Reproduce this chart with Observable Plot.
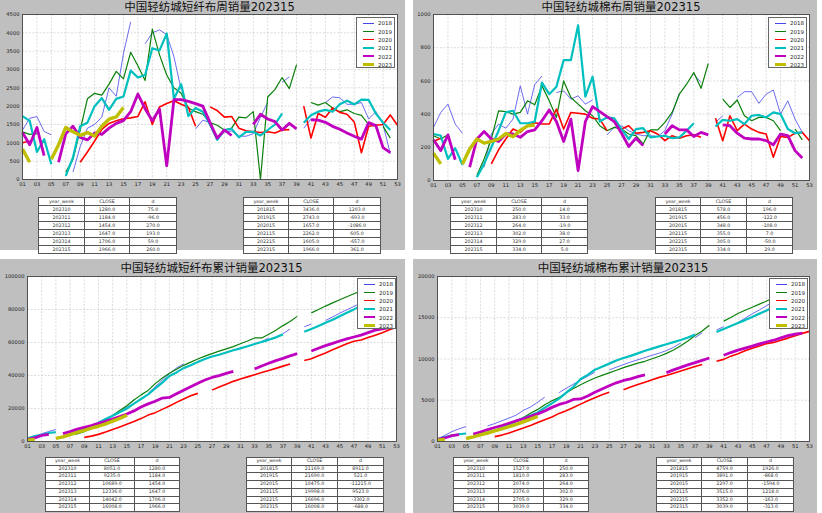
<!DOCTYPE html>
<html><head><meta charset="utf-8">
<script src="https://cdn.jsdelivr.net/npm/d3@7"></script>
<script src="https://cdn.jsdelivr.net/npm/@observablehq/plot@0.6"></script>
<style>
html,body{margin:0;padding:0;}
body{background:#fff;width:822px;height:513px;overflow:hidden;position:relative;font-family:"DejaVu Sans","Noto Sans CJK SC",sans-serif;}
.panel{position:absolute;background:#bfbfbf;}
.title{position:absolute;font-size:11.5px;color:#111;white-space:nowrap;transform:translateX(-50%);line-height:12px;font-family:"DejaVu Sans","Noto Sans CJK SC",sans-serif;}
.chart{position:absolute;}
table.t{position:absolute;border-collapse:collapse;background:#fff;font-size:4.7px;color:#333;table-layout:fixed;}
table.t td{border:0.8px solid #555;text-align:center;padding:0;white-space:nowrap;overflow:hidden;}
.legend{position:absolute;background:#fff;border:0.8px solid #666;box-sizing:border-box;width:39px;height:51px;}
.lrow{position:absolute;left:0;height:8px;width:100%;}
.sw{position:absolute;left:6px;width:11px;top:4px;}
.lt{position:absolute;left:21px;top:0;font-size:5.5px;line-height:8px;color:#222;}
</style></head>
<body>
<script>
// ---------- categories ----------
const years = ["2018","2019","2020","2021","2022","2023"];
const yearColors = ["#4646ee","#0a800a","#ff0000","#00bfbf","#bf00bf","#bfbf00"];
const yearWidths = [0.8,1.2,1.6,2.2,2.8,3.4];
const weekTicks = d3.range(1,54,2);
const tableHeader = ["year_week","CLOSE","d"];

// ---------- short-fiber weekly sales (week 1..53) ----------
const short2018 = [1350,1670,1716,1310,1220,null,null,200,900,1400, 1500,1700,2500,2270,3436,4300,null,3700,4000,4080, 3950,3350,2450,null,1380,1620,1550,1100,1300,1320, 1180,1180,1250,1700,2100,null,2650,2800,null,1400, 1650,null,2100,2250,2230,2050,2050,2100,1650,1850, 1500,700,null];
const short2019 = [1300,1230,1250,null,null,null,200,550,1350,2200, 2350,2300,2600,2950,2743,3470,3100,2700,4100,3400, 2850,2500,2350,1950,1850,1780,1550,1480,1350,1400, 1700,1680,1850,0,2250,2450,2780,2480,3130,null, 2100,2030,2100,1950,1850,1900,1800,1750,1500,null, 1450,1130,null];
const short2020 = [1000,1050,null,null,null,null,null,null,470,750, 1050,1370,1530,1600,1657,1680,1720,2120,1500,1980, 2070,2150,2050,1970,1450,null,1980,1880,1700,1720, 1400,1330,1300,1280,1300,1270,1350,1360,null,2000, 1130,1800,1700,1950,1830,1780,1570,730,1450,1480, 1500,1760,1480];
const short2021 = [1730,1600,750,1100,420,null,100,600,1450,1550, 2000,2220,1900,2200,2262,2970,2780,2850,3580,3520, 3980,2200,2600,1730,1950,1850,1500,1080,1350,1380, 1150,1300,1300,1200,1350,1500,1800,null,null,1550, 1750,1850,1900,1850,2050,2150,2050,2180,2170,1800, 1550,1350,null];
const short2022 = [1280,950,1420,650,null,470,1250,1450,1150,1080, 1270,1230,1400,1530,1605,1850,2330,1930,1600,1920, 370,2180,2180,2130,2070,2000,1550,1130,1350,1200, null,null,1500,1780,1650,1580,1350,1530,1380,null, 1630,1620,1560,1450,1370,1270,1180,1100,1550,1470, 870,730,null];
const short2023 = [830,470,null,null,550,950,1420,1300,1205,1280, 1184,1454,1647,1706,1966];

// ---------- cotton weekly sales ----------
const cotton2018 = [320,410,460,340,285,null,null,80,280,340, 315,370,570,400,578,630,null,530,540,490, 510,460,485,null,275,320,330,300,280,270, 270,265,300,400,525,null,640,590,null,350, 390,null,500,535,535,465,520,545,400,480, 370,290,null];
const cotton2019 = [270,250,275,null,null,null,30,130,250,420, 415,400,410,480,456,570,480,380,600,500, 460,420,390,330,300,320,310,280,270,220, 305,305,350,410,520,580,650,555,705,null, 490,440,485,390,360,380,380,360,300,null, 310,245,null];
const cotton2020 = [235,255,null,null,null,null,null,null,100,185, 250,310,290,330,348,340,340,430,310,410, 405,400,375,370,300,null,310,330,285,290, 300,280,240,270,255,270,275,260,null,375, 240,390,300,340,310,290,280,140,265,260, 285,290,240];
const cotton2021 = [280,270,130,195,95,null,20,100,200,300, 410,420,345,345,355,590,520,565,725,725, 935,505,625,355,380,375,310,250,310,315, 260,265,270,255,260,300,345,null,null,325, 365,360,370,340,390,395,380,410,400,310, 285,290,null];
const cotton2022 = [245,180,275,125,null,80,250,295,250,235, 280,280,260,295,305,360,425,355,235,370, 60,355,445,415,385,355,285,205,255,210, null,null,280,330,305,305,265,290,275,null, 335,330,285,255,250,250,240,215,280,270, 180,135,null];
const cotton2023 = [165,100,null,null,100,190,250,225,236,250, 283,264,302,329,334];

// ---------- short-fiber cumulative sales ----------
const shortCum2018 = [1350,3020,4736,6046,7266,null,null,7466,8366,9766, 11266,12966,15466,17733,21169,25469,null,29169,33169,37249, 41199,44549,46999,null,48379,49999,51549,52649,53949,55269, 56449,57629,58879,60579,62679,null,65329,68129,null,69529, 71179,null,73279,75529,77759,79809,81859,83959,85609,87459, 88959,89659,null];
const shortCum2019 = [1300,2530,3780,null,null,null,4000,4600,6000,8250, 10650,13000,15700,18800,21690,25160,28260,30960,35060,38460, 41310,43810,46160,48110,49960,51740,53290,54770,56120,57520, 59220,60900,62750,62750,65000,67450,70230,72710,75840,null, 77940,79970,82070,84020,85870,87770,89570,91320,92820,null, 94270,95400,null];
const shortCum2020 = [1000,2050,null,null,null,null,null,null,2520,3270, 4320,5690,7220,8818,10475,12155,13875,15995,17495,19475, 21545,23695,25745,27715,29165,null,31145,33025,34725,36445, 37845,39175,40475,41755,43055,44325,45675,47035,null,49035, 50165,51965,53665,55615,57445,59225,60795,61525,62975,64455, 65955,67715,69195];
const shortCum2021 = [1730,3330,4080,5180,5600,null,5700,6300,7800,9400, 11400,13650,15550,17736,19998,22968,25748,28598,32178,35698, 39678,41878,44478,46208,48158,50008,51508,52588,53938,55318, 56468,57768,59068,60268,61618,63118,64918,null,null,66468, 68218,70068,71968,73818,75868,78018,80068,82248,84418,86218, 87768,89118,null];
const shortCum2022 = [1280,2230,3650,4300,null,4770,6020,7470,8620,9700, 10970,12200,13600,15091,16696,18546,20876,22806,24406,26326, 26696,28876,31056,33186,35256,37256,38806,39936,41286,42486, null,null,43986,45766,47416,48996,50346,51876,53256,null, 54886,56506,58066,59516,60886,62156,63336,64436,65986,67456, 68326,69056,null];
const shortCum2023 = [830,1300,null,null,1850,2800,4220,5520,6771,8051, 9235,10689,12336,14042,16008];

// ---------- cotton cumulative sales ----------
const cottonCum2018 = [320,730,1190,1530,1815,null,null,1895,2175,2515, 2830,3200,3770,4181,4759,5389,null,5919,6459,6949, 7459,7919,8404,null,8679,8999,9329,9629,9909,10179, 10449,10714,11014,11414,11939,null,12579,13169,null,13519, 13909,null,14409,14944,15479,15944,16464,17009,17409,17889, 18259,18549,null];
const cottonCum2019 = [270,520,795,null,null,null,830,960,1220,1650, 2070,2480,2900,3435,3891,4461,4941,5321,5921,6421, 6881,7301,7691,8021,8321,8641,8951,9231,9501,9721, 10026,10331,10681,11091,11611,12191,12841,13396,14101,null, 14591,15031,15516,15906,16266,16646,17026,17386,17686,null, 17996,18241,null];
const cottonCum2020 = [235,490,null,null,null,null,null,null,590,775, 1025,1335,1625,1949,2297,2637,2977,3407,3717,4127, 4532,4932,5307,5677,5977,null,6287,6617,6902,7192, 7492,7772,8012,8282,8537,8807,9082,9342,null,9717, 9957,10347,10647,10987,11297,11587,11867,12007,12272,12532, 12817,13107,13347];
const cottonCum2021 = [280,550,680,875,970,null,1000,1100,1310,1620, 2040,2470,2820,3160,3515,4105,4625,5190,5915,6640, 7575,8080,8705,9060,9440,9815,10125,10375,10685,11000, 11260,11525,11795,12050,12310,12610,12955,null,null,13280, 13645,14005,14375,14715,15105,15500,15880,16290,16690,17000, 17285,17575,null];
const cottonCum2022 = [245,425,700,825,null,905,1155,1450,1700,1935, 2215,2495,2755,3047,3352,3712,4137,4492,4727,5097, 5157,5512,5957,6372,6757,7112,7397,7602,7857,8067, null,null,8347,8677,8982,9287,9552,9842,10117,null, 10452,10782,11067,11322,11572,11822,12062,12277,12557,12827, 13007,13142,null];
const cottonCum2023 = [165,265,null,null,365,555,805,1030,1277,1527, 1810,2074,2376,2705,3039];

// ---------- tables ----------
const tblShortRecent = [["202310","1280.0","75.0"],["202311","1184.0","-96.0"],["202312","1454.0","270.0"],["202313","1647.0","193.0"],["202314","1706.0","59.0"],["202315","1966.0","260.0"]];
const tblShortYoY = [["201815","3436.0","1203.0"],["201915","2743.0","-693.0"],["202015","1657.0","-1086.0"],["202115","2262.0","605.0"],["202215","1605.0","-657.0"],["202315","1966.0","361.0"]];
const tblCottonRecent = [["202310","250.0","14.0"],["202311","283.0","33.0"],["202312","264.0","-19.0"],["202313","302.0","38.0"],["202314","329.0","27.0"],["202315","334.0","5.0"]];
const tblCottonYoY = [["201815","578.0","196.0"],["201915","456.0","-122.0"],["202015","348.0","-108.0"],["202115","355.0","7.0"],["202215","305.0","-50.0"],["202315","334.0","29.0"]];
const tblShortCumRecent = [["202310","8051.0","1280.0"],["202311","9235.0","1184.0"],["202312","10689.0","1454.0"],["202313","12336.0","1647.0"],["202314","14042.0","1706.0"],["202315","16008.0","1966.0"]];
const tblShortCumYoY = [["201815","21169.0","8911.0"],["201915","21690.0","521.0"],["202015","10475.0","-11215.0"],["202115","19998.0","9523.0"],["202215","16696.0","-3302.0"],["202315","16008.0","-688.0"]];
const tblCottonCumRecent = [["202310","1527.0","250.0"],["202311","1810.0","283.0"],["202312","2074.0","264.0"],["202313","2376.0","302.0"],["202314","2705.0","329.0"],["202315","3039.0","334.0"]];
const tblCottonCumYoY = [["201815","4759.0","1926.0"],["201915","3891.0","-868.0"],["202015","2297.0","-1594.0"],["202115","3515.0","1218.0"],["202215","3352.0","-163.0"],["202315","3039.0","-313.0"]];

// ---------- layout ----------
const panels = [
  {title:"中国轻纺城短纤布周销量202315", box:[0,0,405,250], frame:[22,14,397,179], ymax:4500, ystep:500,
   series:[short2018,short2019,short2020,short2021,short2022,short2023], titleTop:1,
   legend:[356,17], tables:[[tblShortRecent,38,197,[46,45,47],7],[tblShortYoY,243,197,[45,45,47],7]]},
  {title:"中国轻纺城棉布周销量202315", box:[413,0,404,250], frame:[433,14,809,180], ymax:1000, ystep:200,
   series:[cotton2018,cotton2019,cotton2020,cotton2021,cotton2022,cotton2023], titleTop:1,
   legend:[768,17], tables:[[tblCottonRecent,450,197,[46,45,46],7],[tblCottonYoY,655,197,[45,46,46],7]]},
  {title:"中国轻纺城短纤布累计销量202315", box:[0,259,405,254], frame:[27,276,396,441], ymax:100000, ystep:20000,
   series:[shortCum2018,shortCum2019,shortCum2020,shortCum2021,shortCum2022,shortCum2023], titleTop:262,
   legend:[357,278], tables:[[tblShortCumRecent,45,457,[44,45,45],6.7],[tblShortCumYoY,246,457,[45,46,46],6.7]]},
  {title:"中国轻纺城棉布累计销量202315", box:[413,259,404,254], frame:[437,276,809,441], ymax:20000, ystep:5000,
   series:[cottonCum2018,cottonCum2019,cottonCum2020,cottonCum2021,cottonCum2022,cottonCum2023], titleTop:262,
   legend:[769,278], tables:[[tblCottonCumRecent,453,457,[45,45,45],6.7],[tblCottonCumYoY,656,457,[45,46,46],6.7]]}
];

function el(tag, cls, style){const e=document.createElement(tag); if(cls) e.className=cls; if(style) Object.assign(e.style, style); document.body.appendChild(e); return e;}

for (const p of panels) {
  const [bx,by,bw,bh] = p.box;
  el("div","panel",{left:bx+"px",top:by+"px",width:bw+"px",height:bh+"px"});
  const [fx0,fy0,fx1,fy1] = p.frame;
  const H = fy1 - by + 12;
  const yTicks = d3.range(0, p.ymax + 1, p.ystep);
  const lines = p.series.map((arr,i) => Plot.line(arr.map((v,k)=>({week:k+1, value:v})), {
    x:"week", y:"value", stroke: yearColors[i], strokeWidth: yearWidths[i], strokeLinejoin:"round", strokeLinecap:"butt"
  }));
  const chart = Plot.plot({
    width: bw, height: H,
    marginLeft: fx0 - bx, marginRight: bx + bw - fx1, marginTop: fy0 - by, marginBottom: by + H - fy1,
    style: {background:"transparent", fontFamily:"DejaVu Sans", fontSize:"5.2px", color:"#222", overflow:"visible"},
    x: {domain:[1,53], label:null},
    y: {domain:[0,p.ymax], label:null},
    marks: [
      Plot.frame({fill:"white", stroke:null}),
      Plot.gridX(weekTicks, {stroke:"#c4c4c4", strokeOpacity:1, strokeWidth:0.6, strokeDasharray:"2,1.5"}),
      Plot.gridY(yTicks, {stroke:"#c4c4c4", strokeOpacity:1, strokeWidth:0.6, strokeDasharray:"2,1.5"}),
      ...lines,
      Plot.frame({stroke:"#444", strokeWidth:0.9}),
      Plot.axisX(weekTicks, {tickSize:0, tickPadding:3, tickFormat:d=>String(d).padStart(2,"0"), label:null, fontSize:5.2}),
      Plot.axisY(yTicks, {tickSize:0, tickPadding:3, tickFormat:d=>String(d), label:null, fontSize:5.2})
    ]
  });
  const holder = el("div","chart",{left:bx+"px",top:by+"px"});
  holder.appendChild(chart);
  const t = el("div","title",{left:((fx0+fx1)/2)+"px", top:p.titleTop+"px"});
  t.textContent = p.title;
  const lg = el("div","legend",{left:p.legend[0]+"px", top:p.legend[1]+"px"});
  years.forEach((yr,i)=>{
    const row=document.createElement("div"); row.className="lrow"; row.style.top=(1.3+8.3*i)+"px";
    const sw=document.createElement("div"); sw.className="sw";
    sw.style.borderTop=yearWidths[i]+"px solid "+yearColors[i]; sw.style.marginTop=(-yearWidths[i]/2)+"px";
    const lt=document.createElement("div"); lt.className="lt"; lt.textContent=yr;
    row.appendChild(sw); row.appendChild(lt); lg.appendChild(row);
  });
  for (const [rows,tx,ty,widths,rh] of p.tables) {
    const tb = el("table","t",{left:tx+"px",top:ty+"px",width:d3.sum(widths)+"px"});
    const cg=document.createElement("colgroup");
    widths.forEach(w=>{const c=document.createElement("col"); c.style.width=w+"px"; cg.appendChild(c);});
    tb.appendChild(cg);
    [tableHeader, ...rows].forEach(r=>{
      const tr=document.createElement("tr");
      r.forEach(v=>{const td=document.createElement("td"); td.textContent=v; td.style.height=rh+"px"; td.style.lineHeight=rh+"px"; tr.appendChild(td);});
      tb.appendChild(tr);
    });
  }
}
</script>
</body></html>
